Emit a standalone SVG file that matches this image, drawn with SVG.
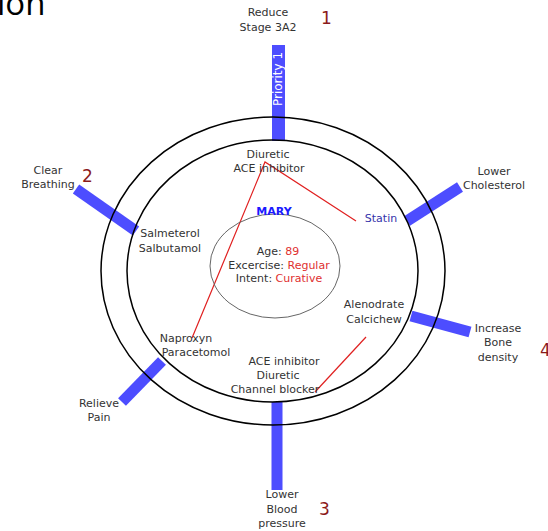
<svg xmlns="http://www.w3.org/2000/svg" width="548" height="531" viewBox="0 0 548 531">
<style>
.lbl{font-family:"DejaVu Sans",Verdana,sans-serif;font-size:11px;fill:#333;text-anchor:middle}
.num{font-family:"DejaVu Sans",sans-serif;font-size:17px;fill:#8b1a1a}
.bar{stroke:#4d4dff;stroke-width:11;fill:none}
.red{stroke:#e02020;stroke-width:1.2;fill:none}
.ring{fill:none;stroke:#000;stroke-width:1.5}
.val{fill:#e03030}
</style>
<rect width="548" height="531" fill="#fff"/>
<text x="-3" y="15" font-family="'Open Sans',sans-serif" font-size="33" fill="#000">ion</text>

<g id="connectors">
  <line class="bar" x1="278.5" y1="45" x2="278.5" y2="141" style="stroke-width:13"/>
  <line class="bar" x1="76" y1="189" x2="136" y2="231"/>
  <line class="bar" x1="407" y1="221" x2="460" y2="187"/>
  <line class="bar" x1="411" y1="316" x2="470" y2="332"/>
  <line class="bar" x1="122" y1="402" x2="162" y2="361"/>
  <line class="bar" x1="277" y1="402" x2="277" y2="490"/>
  <polyline class="red" points="192,338 265,162 356,221"/>
  <line class="red" x1="366" y1="337" x2="315" y2="392"/>
</g>

<g id="rings">
  <ellipse class="ring" cx="273" cy="271" rx="172" ry="154"/>
  <ellipse class="ring" cx="272.5" cy="271" rx="145.5" ry="131"/>
</g>

<g id="priority1">
  <text transform="translate(282,79) rotate(-90)" font-family="'DejaVu Sans',sans-serif" font-size="12" fill="#fff" text-anchor="middle">Priority 1</text>
</g>

<g id="mary">
  <ellipse cx="275" cy="266" rx="65" ry="52" fill="none" stroke="#666" stroke-width="1"/>
  <text x="274" y="215" font-family="'DejaVu Sans',sans-serif" font-size="11" font-weight="bold" fill="#1a1aff" text-anchor="middle">MARY</text>
  <text class="lbl" x="278" y="255">Age: <tspan class="val">89</tspan></text>
  <text class="lbl" x="279" y="269">Excercise: <tspan class="val">Regular</tspan></text>
  <text class="lbl" x="279" y="282">Intent: <tspan class="val">Curative</tspan></text>
</g>

<g id="goal-reduce">
  <text class="lbl" x="268" y="16">Reduce</text>
  <text class="lbl" x="268" y="31">Stage 3A2</text>
  <text class="num" x="321" y="24">1</text>
</g>
<g id="goal-breathing">
  <text class="lbl" x="48" y="174">Clear</text>
  <text class="lbl" x="48" y="188">Breathing</text>
  <text class="num" x="82" y="182">2</text>
</g>
<g id="goal-cholesterol">
  <text class="lbl" x="494" y="175">Lower</text>
  <text class="lbl" x="494" y="189">Cholesterol</text>
</g>
<g id="goal-bone">
  <text class="lbl" x="498" y="332">Increase</text>
  <text class="lbl" x="498" y="346">Bone</text>
  <text class="lbl" x="498" y="361">density</text>
  <text class="num" x="540" y="356">4</text>
</g>
<g id="goal-pain">
  <text class="lbl" x="99" y="407">Relieve</text>
  <text class="lbl" x="99" y="421">Pain</text>
</g>
<g id="goal-bp">
  <text class="lbl" x="282" y="498">Lower</text>
  <text class="lbl" x="282" y="513">Blood</text>
  <text class="lbl" x="282" y="527">pressure</text>
  <text class="num" x="319" y="515">3</text>
</g>

<g id="drug-diuretic-ace">
  <text class="lbl" x="268" y="158">Diuretic</text>
  <text class="lbl" x="269" y="172">ACE inhibitor</text>
</g>
<g id="drug-salmeterol">
  <text class="lbl" x="170" y="237">Salmeterol</text>
  <text class="lbl" x="170" y="252">Salbutamol</text>
</g>
<g id="drug-statin">
  <text class="lbl" x="381" y="222" style="fill:#3333aa">Statin</text>
</g>
<g id="drug-alenodrate">
  <text class="lbl" x="374" y="308">Alenodrate</text>
  <text class="lbl" x="374" y="323">Calcichew</text>
</g>
<g id="drug-naproxyn">
  <text class="lbl" x="186" y="342">Naproxyn</text>
  <text class="lbl" x="196" y="356">Paracetomol</text>
</g>
<g id="drug-bp">
  <text class="lbl" x="284" y="365">ACE inhibitor</text>
  <text class="lbl" x="278" y="379">Diuretic</text>
  <text class="lbl" x="275" y="393">Channel blocker</text>
</g>
</svg>
